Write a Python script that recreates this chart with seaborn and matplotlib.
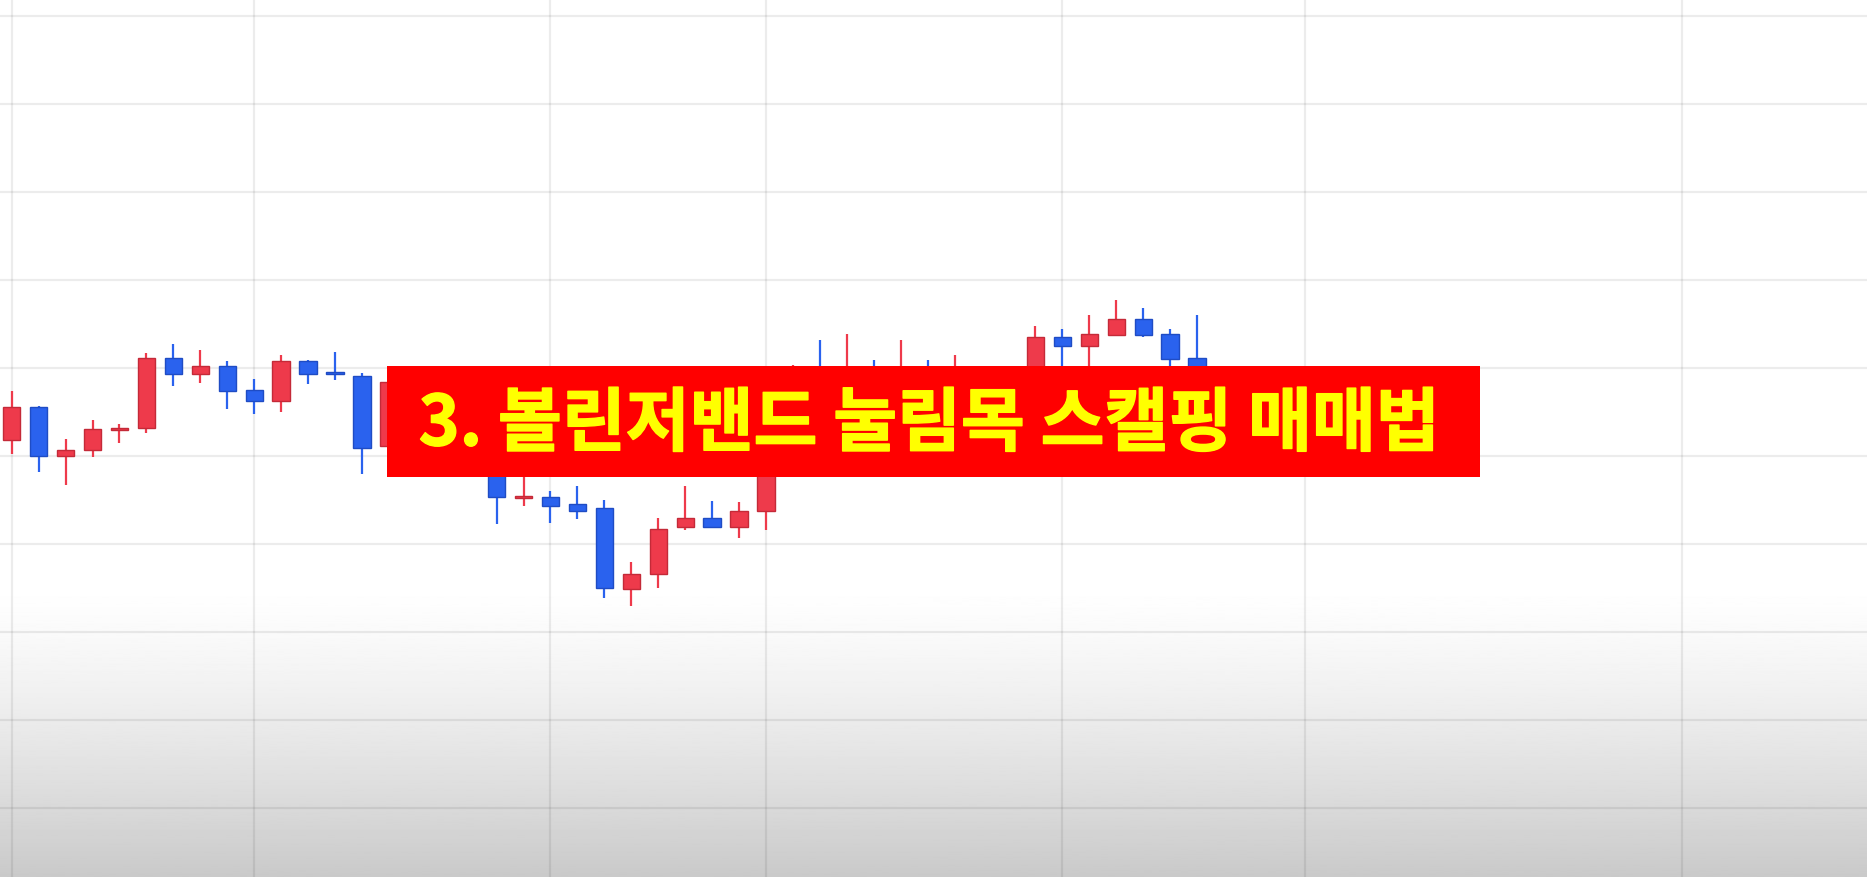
import numpy as np
import pandas as pd
import matplotlib
matplotlib.use("Agg")
import matplotlib.pyplot as plt
import matplotlib.patheffects as pe
import seaborn as sns
from matplotlib.patches import Rectangle

# candle data (hidden ones under the banner estimated)
opens  = [141.8, 145.5, 140.0, 140.6, 142.9, 143.2, 151.1, 149.3, 150.2, 147.5,
          146.2, 150.8, 149.4, 149.1, 141.1, 148.4, 145.2, 147.2, 140.0, 135.2,
          135.3, 134.5, 134.1, 124.8, 126.6, 131.9, 132.95, 131.9, 133.75, 142.0,
          146.0, 144.0, 147.0, 145.0, 147.5, 146.0, 148.0, 149.0, 147.5, 153.45,
          152.5, 153.7, 155.5, 153.8, 151.1]
highs  = [147.3, 145.6, 141.9, 144.1, 143.6, 151.7, 152.7, 152.0, 150.8, 148.7,
          151.4, 150.9, 151.8, 149.4, 148.9, 149.5, 147.8, 147.9, 140.5, 138.0,
          136.0, 136.6, 135.0, 127.9, 132.9, 136.6, 134.8, 134.7, 143.5, 150.3,
          153.2, 153.8, 150.9, 153.2, 150.9, 151.4, 149.8, 149.6, 154.7, 154.4,
          156.0, 157.7, 156.8, 154.4, 156.0]
lows   = [140.2, 138.2, 136.7, 139.9, 141.4, 142.6, 147.9, 148.3, 145.3, 144.7,
          145.0, 148.2, 148.6, 137.9, 140.5, 144.5, 144.3, 139.2, 132.2, 134.3,
          132.4, 132.8, 123.8, 122.9, 125.0, 131.6, 131.8, 130.7, 131.6, 141.0,
          143.0, 143.5, 144.0, 144.5, 145.0, 145.5, 147.0, 146.8, 146.9, 148.8,
          149.0, 153.6, 153.45, 149.0, 148.5]
closes = [145.5, 140.0, 140.6, 143.0, 143.0, 151.1, 149.3, 150.2, 147.4, 146.2,
          150.8, 149.3, 149.3, 140.9, 148.4, 145.2, 147.2, 140.0, 135.3, 135.4,
          134.3, 133.75, 125.0, 126.6, 131.7, 132.9, 131.9, 133.75, 142.0, 145.0,
          144.0, 147.0, 145.0, 147.5, 146.0, 148.0, 149.0, 147.5, 153.45, 152.5,
          153.8, 155.5, 153.7, 151.0, 149.0]

title = "3. 볼린저밴드 눌림목 스캘핑 매매법"
day_breaks = [0, 9, 20, 28, 39, 48, 62]
price_grid = list(range(100, 200, 10))

df = pd.DataFrame({"open": opens, "high": highs, "low": lows, "close": closes})
df["idx"] = np.arange(len(df))
df["up"] = df["close"] >= df["open"]

sns.set_theme(style="white")
plt.rcParams['font.family'] = ['Noto Sans CJK KR', 'DejaVu Sans']

fig = plt.figure(figsize=(18.67, 8.77), dpi=100)
ax = fig.add_axes([0, 0, 1, 1])
ax.set_xlim(-0.434, 68.87)
ax.set_ylim(92.125, 191.78)

# grey fade at the bottom
grad = np.linspace(0, 1, 256) ** 1.3
grad = grad[:, None]
ax.imshow(1 - 0.21 * grad, cmap="gray", vmin=0, vmax=1, aspect="auto",
          extent=[-0.434, 68.87, 125.5, 92.125], origin="lower", zorder=-1)

ax.set_xticks(day_breaks)
ax.set_yticks(price_grid)
ax.grid(True, color="black", alpha=0.075, linewidth=1.6)
ax.set_axisbelow(True)
ax.tick_params(labelbottom=False, labelleft=False, length=0)
for s in ax.spines.values():
    s.set_visible(False)

red = "#ee3a4b"
blue = "#2a62ee"
for _, r in df.iterrows():
    c = red if r["up"] else blue
    ec = "#c42a38" if r["up"] else "#1f4cc4"
    ax.vlines(r["idx"], r["low"], r["high"], color=c, linewidth=1.6, zorder=2)
    lo = min(r["open"], r["close"])
    h = max(abs(r["close"] - r["open"]), 0.2)
    ax.bar(r["idx"], h, bottom=lo, width=0.64, color=c, edgecolor=ec,
           linewidth=1.0, zorder=3)

# title banner
fig.patches.append(Rectangle((387 / 1867, 1 - 477 / 877), 1093 / 1867, 111 / 877,
                             transform=fig.transFigure, facecolor="#ff0000",
                             edgecolor="none", zorder=10))
fig.text(929 / 1867, 1 - 425 / 877, title, color="#ffff00", fontsize=50,
         fontweight="heavy", ha="center", va="center", zorder=11,
         path_effects=[pe.withStroke(linewidth=1.0, foreground="#ffff00")])

fig.savefig("out.png", dpi=100)
